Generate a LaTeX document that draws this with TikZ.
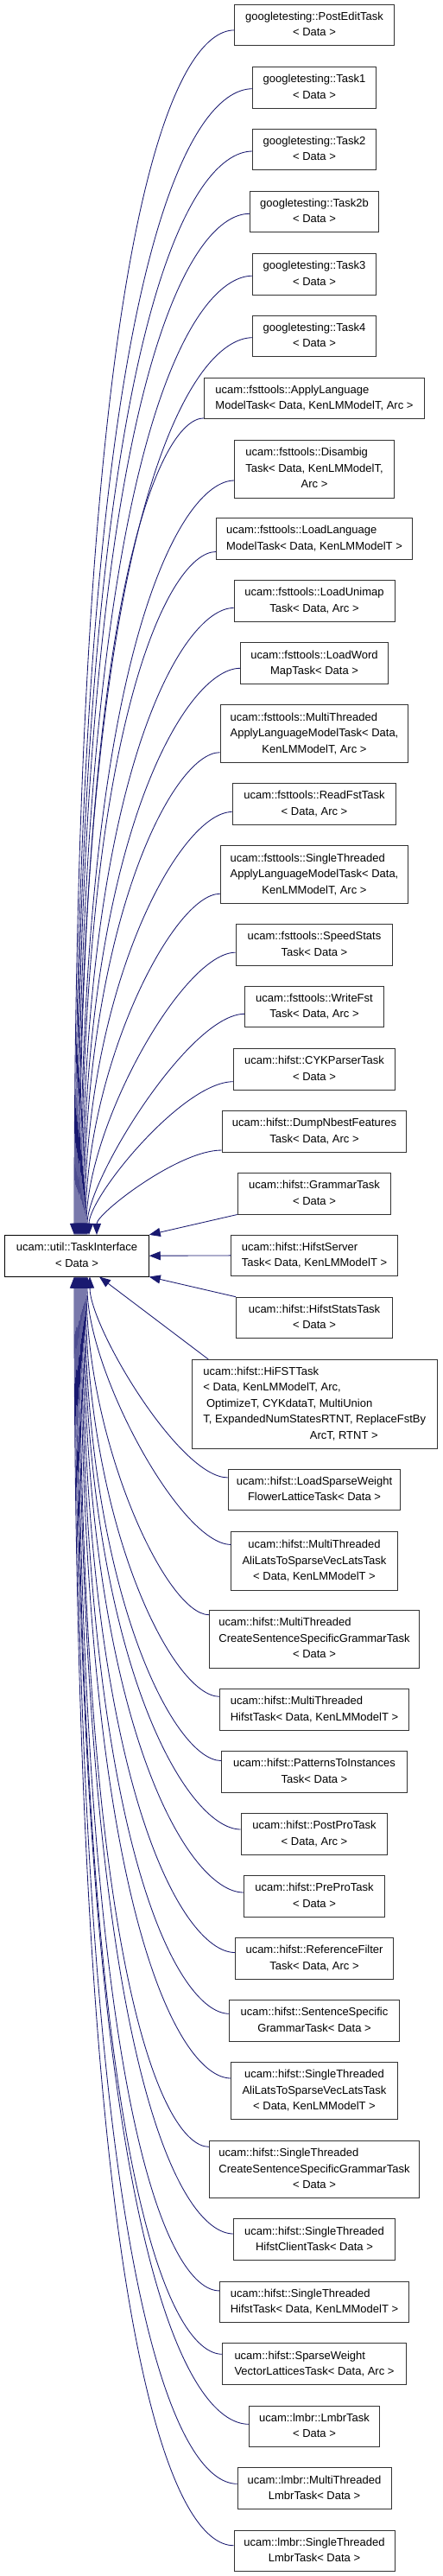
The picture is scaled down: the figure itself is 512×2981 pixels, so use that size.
\documentclass[tikz,border=0pt]{standalone}
\usepackage{fontspec}
\setmainfont{Liberation Sans}
\usetikzlibrary{arrows.meta,calc}
\definecolor{midnight}{RGB}{25,25,112}
\newcommand{\tb}[1]{\begin{tabular}{@{}c@{}}#1\end{tabular}}
\newcommand{\Lf}[1]{\multicolumn{1}{@{}l@{}}{#1}}
\tikzset{
  cls/.style={draw=black!80, fill=white, line width=0.9pt, inner xsep=3pt, inner ysep=0pt,
    minimum height=47.7pt, font=\fontsize{13}{18.5}\selectfont},
  basecls/.style={cls, draw=black},
  conn/.style={draw=midnight, line width=0.85pt, arrows={Triangle[length=13pt,width=10pt]-}},
}
\newcommand{\upedge}[3]{%
  \draw[conn] let \p1=($(#1.west)+(0,#2)$), \p2=($(base.north)+(#3,0)$),
    \n1={0.35*(\x1-\x2)}, \n2={min(200pt,0.75*(\y1-\y2))} in
    (\p2) .. controls (\x2,\y1-\n2) and (\x1-\n1,\y1) .. (\p1);}
\newcommand{\downedge}[3]{%
  \draw[conn] let \p1=($(#1.west)+(0,#2)$), \p2=($(base.south)+(#3,0)$),
    \n1={0.35*(\x1-\x2)}, \n2={min(200pt,0.75*(\y2-\y1))} in
    (\p2) .. controls (\x2,\y1+\n2) and (\x1-\n1,\y1) .. (\p1);}
\begin{document}
\begin{tikzpicture}[x=1pt,y=-1pt]
\useasboundingbox[fill=white] (0,0) rectangle (512,2981);
% base
\node[basecls, minimum width=166.6pt] (base) at (89,1453.2) {\tb{ucam::util::TaskInterface\\< Data >}};
% children
\node[cls, minimum width=184.3pt] (pe) at (364,28.9) {\tb{googletesting::PostEditTask\\< Data >}};
\node[cls, minimum width=142.3pt] (t1) at (364,101.2) {\tb{googletesting::Task1\\< Data >}};
\node[cls, minimum width=142.3pt] (t2) at (364,173) {\tb{googletesting::Task2\\< Data >}};
\node[cls, minimum width=149.3pt] (t2b) at (364,244.9) {\tb{googletesting::Task2b\\< Data >}};
\node[cls, minimum width=142.3pt] (t3) at (364,317.2) {\tb{googletesting::Task3\\< Data >}};
\node[cls, minimum width=142.3pt] (t4) at (364,389) {\tb{googletesting::Task4\\< Data >}};
\node[cls, minimum width=255pt] (alm) at (364,460.9) {\tb{\Lf{ucam::fsttools::ApplyLanguage}\\ModelTask< Data, KenLMModelT, Arc >}};
\node[cls, minimum width=184.3pt, minimum height=67pt] (dis) at (364,542.5) {\tb{\Lf{ucam::fsttools::Disambig}\\\Lf{Task< Data, KenLMModelT,}\\Arc >}};
\node[cls, minimum width=227pt] (llm) at (364,623.5) {\tb{\Lf{ucam::fsttools::LoadLanguage}\\ModelTask< Data, KenLMModelT >}};
\node[cls, minimum width=186pt] (lu) at (364,695.5) {\tb{ucam::fsttools::LoadUnimap\\Task< Data, Arc >}};
\node[cls, minimum width=171pt] (lw) at (364,767.7) {\tb{ucam::fsttools::LoadWord\\MapTask< Data >}};
\node[cls, minimum width=217.7pt, minimum height=67pt] (mta) at (364,849.2) {\tb{\Lf{ucam::fsttools::MultiThreaded}\\\Lf{ApplyLanguageModelTask< Data,}\\KenLMModelT, Arc >}};
\node[cls, minimum width=189.7pt] (rf) at (364,930.5) {\tb{ucam::fsttools::ReadFstTask\\< Data, Arc >}};
\node[cls, minimum width=217.7pt, minimum height=66.3pt] (sta) at (364,1011.9) {\tb{\Lf{ucam::fsttools::SingleThreaded}\\\Lf{ApplyLanguageModelTask< Data,}\\KenLMModelT, Arc >}};
\node[cls, minimum width=181.7pt] (ss) at (364,1093.2) {\tb{ucam::fsttools::SpeedStats\\Task< Data >}};
\node[cls, minimum width=160.7pt] (wf) at (364,1164.9) {\tb{ucam::fsttools::WriteFst\\Task< Data, Arc >}};
\node[cls, minimum width=187pt] (cyk) at (364,1237.2) {\tb{ucam::hifst::CYKParserTask\\< Data >}};
\node[cls, minimum width=213.7pt] (dnf) at (364,1309.2) {\tb{ucam::hifst::DumpNbestFeatures\\Task< Data, Arc >}};
\node[cls, minimum width=177.7pt] (gr) at (364,1381.2) {\tb{ucam::hifst::GrammarTask\\< Data >}};
\node[cls, minimum width=192.3pt] (hs) at (364,1452.9) {\tb{\Lf{ucam::hifst::HifstServer}\\Task< Data, KenLMModelT >}};
\node[cls, minimum width=181pt] (hst) at (364,1525) {\tb{ucam::hifst::HifstStatsTask\\< Data >}};
\node[cls, minimum width=283.3pt, minimum height=102.7pt] (hifst) at (364.3,1624.7) {\tb{\Lf{ucam::hifst::HiFSTTask}\\\Lf{< Data, KenLMModelT, Arc,}\\\Lf{\ OptimizeT, CYKdataT, MultiUnion}\\T, ExpandedNumStatesRTNT, ReplaceFstBy\\\Lf{\hspace*{123.4pt}ArcT, RTNT >}}};
\node[cls, minimum width=199.7pt] (ls) at (364,1723.9) {\tb{ucam::hifst::LoadSparseWeight\\FlowerLatticeTask< Data >}};
\node[cls, minimum width=192.3pt, minimum height=67.3pt] (mtali) at (364,1806.4) {\tb{ucam::hifst::MultiThreaded\\AliLatsToSparseVecLatsTask\\< Data, KenLMModelT >}};
\node[cls, minimum width=243pt, minimum height=66.7pt] (mtc) at (364,1896.7) {\tb{\Lf{ucam::hifst::MultiThreaded}\\\Lf{CreateSentenceSpecificGrammarTask}\\< Data >}};
\node[cls, minimum width=219pt] (mth) at (364,1978.3) {\tb{\Lf{ucam::hifst::MultiThreaded}\\HifstTask< Data, KenLMModelT >}};
\node[cls, minimum width=215pt] (pat) at (364,2050.5) {\tb{ucam::hifst::PatternsToInstances\\Task< Data >}};
\node[cls, minimum width=169.7pt] (pp) at (364,2122.5) {\tb{ucam::hifst::PostProTask\\< Data, Arc >}};
\node[cls, minimum width=163pt] (prp) at (364,2194.5) {\tb{ucam::hifst::PreProTask\\< Data >}};
\node[cls, minimum width=183pt] (rff) at (364,2266.5) {\tb{ucam::hifst::ReferenceFilter\\Task< Data, Arc >}};
\node[cls, minimum width=196.3pt] (ssg) at (364,2338.3) {\tb{ucam::hifst::SentenceSpecific\\GrammarTask< Data >}};
\node[cls, minimum width=192.3pt, minimum height=66pt] (stali) at (364,2419.7) {\tb{ucam::hifst::SingleThreaded\\AliLatsToSparseVecLatsTask\\< Data, KenLMModelT >}};
\node[cls, minimum width=243.4pt, minimum height=66pt] (stc) at (364,2510.3) {\tb{\Lf{ucam::hifst::SingleThreaded}\\\Lf{CreateSentenceSpecificGrammarTask}\\< Data >}};
\node[cls, minimum width=186.3pt] (sthc) at (364,2591.7) {\tb{ucam::hifst::SingleThreaded\\HifstClientTask< Data >}};
\node[cls, minimum width=219pt] (sth) at (364,2663.9) {\tb{\Lf{ucam::hifst::SingleThreaded}\\HifstTask< Data, KenLMModelT >}};
\node[cls, minimum width=212.3pt] (sw) at (364,2735.7) {\tb{\Lf{ucam::hifst::SparseWeight}\\VectorLatticesTask< Data, Arc >}};
\node[cls, minimum width=151pt] (lm) at (364,2807.9) {\tb{ucam::lmbr::LmbrTask\\< Data >}};
\node[cls, minimum width=178pt] (mtl) at (364,2879.7) {\tb{ucam::lmbr::MultiThreaded\\LmbrTask< Data >}};
\node[cls, minimum width=186pt] (stl) at (364,2951.9) {\tb{ucam::lmbr::SingleThreaded\\LmbrTask< Data >}};
% edges above
\upedge{pe}{6}{-3}
\upedge{t1}{1.5}{-2}
\upedge{t2}{2}{-1}
\upedge{t2b}{2.4}{0}
\upedge{t3}{2}{1}
\upedge{t4}{1.7}{2}
\upedge{alm}{23}{3}
\upedge{dis}{13.5}{4}
\upedge{llm}{15}{5}
\upedge{lu}{8}{6}
\upedge{lw}{5.6}{7}
\upedge{mta}{21.5}{8}
\upedge{rf}{9}{9}
\upedge{sta}{22.4}{10}
\upedge{ss}{9}{11}
\upedge{wf}{8.4}{12}
\upedge{cyk}{14.5}{14}
\upedge{dnf}{21.8}{23}
% edges at the side
\draw[conn] (base.north east) -- (gr.south west);
\draw[conn] (base.east) -- (hs.west);
\draw[conn] (base.south east) -- (hst.north west);
\draw[conn] ([xshift=26pt]base.south) -- ([xshift=19pt]hifst.north west);
% edges below
\downedge{ls}{-14}{15}
\downedge{mtali}{-19}{12}
\downedge{mtc}{-28}{11}
\downedge{mth}{-15}{10}
\downedge{pat}{-13}{9}
\downedge{pp}{-5.5}{8}
\downedge{prp}{-4.5}{7}
\downedge{rff}{-7}{6}
\downedge{ssg}{-8}{5}
\downedge{stali}{-14.7}{4}
\downedge{stc}{-26}{3}
\downedge{sthc}{-6.7}{2}
\downedge{sth}{-13}{1}
\downedge{sw}{-11.4}{0}
\downedge{lm}{-2.6}{-1}
\downedge{mtl}{-5.4}{-2}
\downedge{stl}{-6.2}{-3}
\end{tikzpicture}
\end{document}
